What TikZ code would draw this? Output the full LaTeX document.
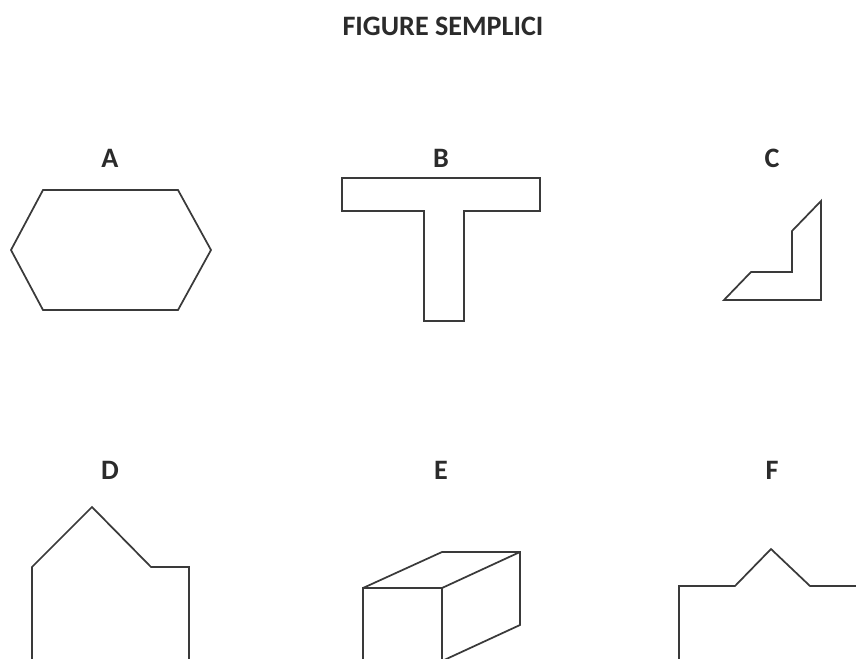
\documentclass[tikz,border=0pt]{standalone}
\usepackage{xcolor}
\usepackage{fontspec}
\setmainfont{Carlito}
\definecolor{inkline}{HTML}{3A3A3A}
\definecolor{inktext}{HTML}{2B2B2B}

\begin{document}
\begin{tikzpicture}[
    x=0.03cm, y=-0.03cm,
    letter/.style={font=\fontsize{24}{26}\selectfont\bfseries, text=inktext, inner sep=0pt},
    outline/.style={draw=inkline, line width=0.052cm, line join=miter},
]
    % Page
    \path[use as bounding box, clip] (0, 0) rectangle (856, 658);

    % Title
    \node[letter] (title) at (443, 26) {FIGURE SEMPLICI};

    % Letters
    \foreach \n/\x/\y in {A/110/158, B/441/158, C/772/158, D/110/470, E/441/470, F/772/470} {
        \node[letter] (lab\n) at (\x, \y) {\n};
    }

    % Figure A
    \draw[outline] (43, 190) -- (178, 190) -- (211, 250) -- (178, 310) -- (43, 310) -- (11, 250) -- cycle;

    % Figure B
    \draw[outline] (342, 178) -- (540, 178) -- (540, 211) -- (464, 211) -- (464, 321)
        -- (424, 321) -- (424, 211) -- (342, 211) -- cycle;

    % Figure C
    \draw[outline] (821, 201) -- (792, 231) -- (792, 272) -- (751, 272) -- (724, 300) -- (821, 300) -- cycle;

    % Figure D (runs off the page)
    \draw[outline] (32, 670) -- (32, 567) -- (92, 507) -- (151, 567) -- (189, 567) -- (189, 670);

    % Figure E (runs off the page)
    \draw[outline] (363, 670) -- (363, 588) -- (442, 588) -- (442, 670);
    \draw[outline] (363, 588) -- (442, 552) -- (520, 552) -- (520, 625) -- (442, 661);
    \draw[outline] (442, 588) -- (520, 552);

    % Figure F (runs off the page)
    \draw[outline] (679, 670) -- (679, 586) -- (735, 586) -- (771, 549) -- (810, 586) -- (870, 586);
\end{tikzpicture}
\end{document}
